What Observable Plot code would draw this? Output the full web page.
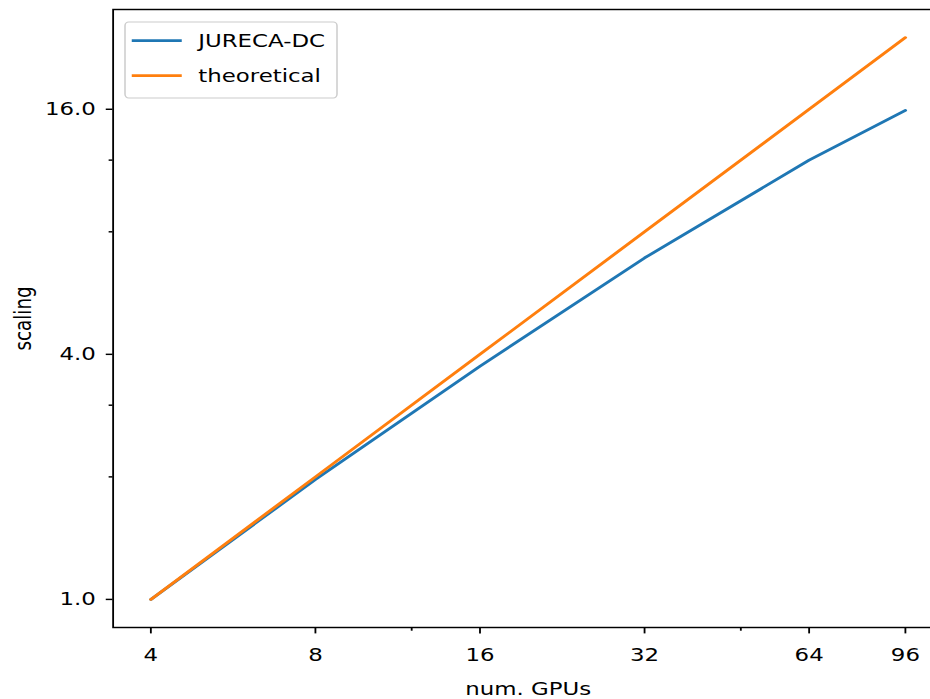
<!DOCTYPE html>
<html><head><meta charset="utf-8">
<script src="https://cdn.jsdelivr.net/npm/d3@7"></script>
<script src="https://cdn.jsdelivr.net/npm/@observablehq/plot@0.6"></script>
<style>
html,body{margin:0;padding:0;background:#fff;overflow:hidden;}
#chart{position:relative;width:930px;height:699px;}
</style>
</head><body><div id="chart"></div>
<script>
// ---- data ----
const gpus = [4, 8, 16, 32, 64, 96];
const jureca = [1.0, 1.97, 3.74, 6.9, 12.0, 15.9];
const theoretical = [1, 2, 4, 8, 16, 24];
const seriesNames = ["JURECA-DC", "theoretical"];
const seriesColors = ["#1f77b4", "#ff7f0e"];
const xTicks = [4, 8, 16, 32, 64, 96];
const xTickLabels = ["4", "8", "16", "32", "64", "96"];
const xMinorTicks = [12, 48];
const yTicks = [1, 4, 16];
const yTickLabels = ["1.0", "4.0", "16.0"];
const yMinorTicks = [2, 3, 8, 12];
const xLabel = "num. GPUs";
const yLabel = "scaling";

// ---- layout ----
const S = 1.25;            // horizontal stretch of the reference picture
const W = 930 / S, H = 699;
const FS = 18.3;
const FONT = "DejaVu Sans";

const rows = [
  ...gpus.map((g, i) => ({gpus: g, value: jureca[i], series: seriesNames[0]})),
  ...gpus.map((g, i) => ({gpus: g, value: theoretical[i], series: seriesNames[1]}))
];

function logPad(lo, hi, f) {
  const a = Math.log2(lo), b = Math.log2(hi), p = (b - a) * f;
  return [2 ** (a - p), 2 ** (b + p)];
}
const allY = jureca.concat(theoretical);
const xDomain = logPad(d3.min(gpus), d3.max(gpus), 0.05);
const yDomain = logPad(d3.min(allY), d3.max(allY), 0.05);

const svg = Plot.plot({
  width: W, height: H,
  marginLeft: 90, marginRight: -10, marginTop: 9, marginBottom: 72,
  style: {fontFamily: FONT, fontSize: FS + "px", color: "#000", background: "#fff"},
  x: {type: "log", base: 2, domain: xDomain, label: null},
  y: {type: "log", base: 2, domain: yDomain, label: null},
  color: {domain: seriesNames, range: seriesColors},
  marks: [
    Plot.line(rows, {x: "gpus", y: "value", z: "series", stroke: "series", strokeWidth: 2.7}),
    Plot.frame({stroke: "#000", strokeWidth: 1.46}),
    Plot.axisX({ticks: xTicks, tickFormat: d => xTickLabels[xTicks.indexOf(d)], tickSize: 6.4, tickPadding: 14.4, strokeWidth: 1.46, label: null}),
    Plot.axisX({ticks: xMinorTicks, tickFormat: () => "", tickSize: 3.7, strokeWidth: 1.46, label: null}),
    Plot.axisY({ticks: yTicks, tickFormat: d => yTickLabels[yTicks.indexOf(d)], tickSize: 5.4, tickPadding: 8.4, strokeWidth: 1.46, label: null}),
    Plot.axisY({ticks: yMinorTicks, tickFormat: () => "", tickSize: 3.1, strokeWidth: 1.46, label: null}),
    Plot.text([xLabel], {text: d => d, frameAnchor: "bottom", lineAnchor: "bottom", textAnchor: "middle", dy: 67, fontSize: FS}),
    Plot.text([yLabel], {text: d => d, frameAnchor: "left", lineAnchor: "middle", textAnchor: "middle", rotate: -90, dx: -71.5, fontSize: FS})
  ]
});

// legend inside the axes (upper left)
const lg = d3.select(svg).append("g").attr("font-family", FONT).attr("font-size", FS)
  .attr("fill", "#000").attr("text-anchor", "start");
lg.append("rect").attr("x", 100).attr("y", 22).attr("width", 169.6).attr("height", 76)
  .attr("rx", 3).attr("ry", 3.7).attr("fill", "#fff").attr("fill-opacity", 0.8)
  .attr("stroke", "#cccccc").attr("stroke-width", 1.2);
seriesNames.forEach((name, i) => {
  const y = 40.7 + 35 * i;
  lg.append("line").attr("x1", 105.4).attr("x2", 145.4).attr("y1", y).attr("y2", y)
    .attr("stroke", seriesColors[i]).attr("stroke-width", 2.7);
  lg.append("text").attr("x", 158.6).attr("y", y + 6.6).attr("text-anchor", "start").text(name);
});

svg.setAttribute("preserveAspectRatio", "none");
svg.setAttribute("width", 930);
svg.setAttribute("height", 699);
svg.style.width = "930px";
svg.style.height = "699px";
svg.style.maxWidth = "none";
document.getElementById("chart").appendChild(svg);
</script>
</body></html>
